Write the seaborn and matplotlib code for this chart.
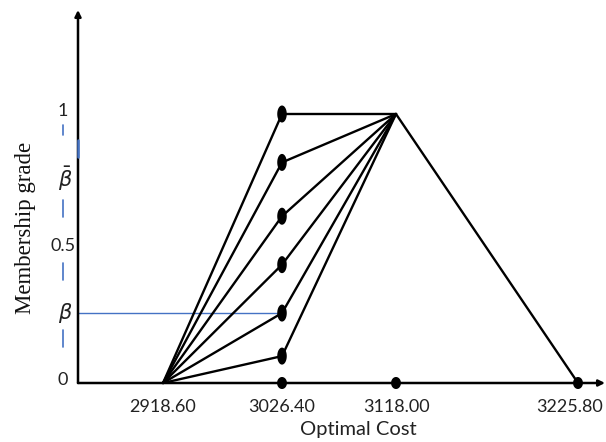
import numpy as np
import pandas as pd
import matplotlib
matplotlib.use("Agg")
import matplotlib.pyplot as plt
import matplotlib.transforms as mtransforms
from matplotlib.path import Path
import seaborn as sns

# ---------------- data ----------------
cost_ticks = [2918.60, 3026.40, 3118.00, 3225.80]
cost_start = 2918.60
cost_mid = 3026.40
cost_peak = 3118.00
cost_end = 3225.80
grades_mid = [1.0, 0.82, 0.62, 0.44, 0.26, 0.10]
beta = 0.26
beta_bar = 0.76
ytick_vals = [0, 0.5, 1]
ytick_labels = ["0", "0.5", "1"]

# ---------------- style ----------------
sns.set_style("white")
plt.rcParams["font.family"] = ["Lato", "DejaVu Sans"]

W, H = 606, 442
fig = plt.figure(figsize=(W / 100, H / 100), dpi=100)
ax_l, ax_r, ax_b, ax_t = 78, 605, 383, 10
ax = fig.add_axes([ax_l / W, (H - ax_b) / H, (ax_r - ax_l) / W, (ax_b - ax_t) / H])

# piecewise x scale (schematic axis, uneven spacing)
tick_px = [163, 282, 396, 578]
left_val = cost_ticks[0] - (tick_px[0] - ax_l) * (cost_ticks[1] - cost_ticks[0]) / (tick_px[1] - tick_px[0])
right_val = cost_ticks[-1] + (ax_r - tick_px[-1]) * (cost_ticks[-1] - cost_ticks[-2]) / (tick_px[-1] - tick_px[-2])
vals_ext = np.array([left_val - 1000, left_val] + cost_ticks + [right_val, right_val + 1000])
px_ext = np.array([ax_l - 1000 * (tick_px[1] - tick_px[0]) / (cost_ticks[1] - cost_ticks[0]), ax_l]
                  + tick_px + [ax_r, ax_r + 1000 * (tick_px[-1] - tick_px[-2]) / (cost_ticks[-1] - cost_ticks[-2])])

def fwd(x):
    return np.interp(x, vals_ext, px_ext)

def inv(p):
    return np.interp(p, px_ext, vals_ext)

ax.set_xscale("function", functions=(fwd, inv))
ax.set_xlim(left_val, right_val)
unit_px = 269.0
ax.set_ylim(0, (ax_b - ax_t) / unit_px)

# ---------------- lines ----------------
rows = []
for i, g in enumerate(grades_mid):
    rows += [(i, cost_start, 0.0), (i, cost_mid, g), (i, cost_peak, 1.0)]
k = len(grades_mid)
rows += [(k, cost_peak, 1.0), (k, cost_end, 0.0)]
df = pd.DataFrame(rows, columns=["path", "cost", "grade"])
sns.lineplot(data=df, x="cost", y="grade", units="path", estimator=None, sort=False,
             color="black", lw=1.7, ax=ax, legend=False)

# blue beta guide line
ax.plot([left_val, cost_mid], [beta, beta], color="#4472C4", lw=1.0, zorder=1)

# markers
t = np.linspace(0, 2 * np.pi, 60)
ell_tall = Path(np.column_stack([0.56 * np.cos(t), np.sin(t)]))
ell_round = Path(np.column_stack([0.82 * np.cos(t), np.sin(t)]))
sns.scatterplot(x=[cost_mid] * len(grades_mid), y=grades_mid, marker=ell_tall, s=150,
                color="black", edgecolor="none", ax=ax, zorder=5)
sns.scatterplot(x=[cost_mid, cost_peak, cost_end], y=[0, 0, 0], marker=ell_round, s=75,
                color="black", edgecolor="none", ax=ax, zorder=5)
for ln in ax.lines:
    ln.set_clip_on(False)
for c in ax.collections:
    c.set_clip_on(False)

# ---------------- axes ----------------
for s in ax.spines.values():
    s.set_visible(False)
ax.annotate("", xy=(0, 1), xytext=(0, 0), xycoords="axes fraction",
            arrowprops=dict(arrowstyle="-|>", lw=1.8, color="black", mutation_scale=9,
                            shrinkA=0, shrinkB=0), annotation_clip=False)
ax.annotate("", xy=(1, 0), xytext=(0, 0), xycoords="axes fraction",
            arrowprops=dict(arrowstyle="-|>", lw=1.8, color="black", mutation_scale=9,
                            shrinkA=0, shrinkB=0), annotation_clip=False)
# blue mark on y-axis
ax.plot([0, 0], [0.84, 0.903], transform=mtransforms.blended_transform_factory(ax.transAxes, ax.transData),
        color="#4472C4", lw=1.8, clip_on=False, zorder=6)

# y tick labels
ax.set_yticks([])
trf = mtransforms.blended_transform_factory(fig.transFigure, ax.transData)
for v, lab in zip(ytick_vals, ytick_labels):
    ax.text(63 / W, v + 0.01, lab, transform=trf, ha="center", va="center", fontsize=13, color="#222222")
ax.text(65 / W, beta, r"$\beta$", transform=trf, ha="center", va="center", fontsize=15, color="#222222")
ax.text(65 / W, beta_bar, r"$\bar{\beta}$", transform=trf, ha="center", va="center", fontsize=15, color="#222222")

# blue dashes left of y axis
for y0, y1 in [(0.134, 0.197), (0.383, 0.446), (0.617, 0.680), (0.922, 0.959)]:
    ax.plot([63 / W, 63 / W], [y0, y1], transform=trf, color="#4472C4", lw=1.2, clip_on=False)

# x tick labels
ax.set_xticks([])
trx = mtransforms.blended_transform_factory(ax.transData, fig.transFigure)
for i, v in enumerate(cost_ticks):
    off = mtransforms.ScaledTranslation(-8 / 100 if i == len(cost_ticks) - 1 else 0, 0, fig.dpi_scale_trans)
    ax.text(v, 1 - 407 / H, f"{v:.2f}", transform=trx + off, ha="center", va="center",
            fontsize=13, color="#222222")
ax.set_xlabel("")
ax.set_ylabel("")

fig.text(358 / W, 1 - 430 / H, "Optimal Cost", ha="center", va="center", fontsize=14.5, color="#222222")
fig.text(26 / W, 1 - 228 / H, "Membership grade", ha="center", va="center", rotation=90,
         fontsize=16.5, family=["Liberation Serif", "DejaVu Serif"], color="#111111")

fig.savefig("out.png", dpi=100)
